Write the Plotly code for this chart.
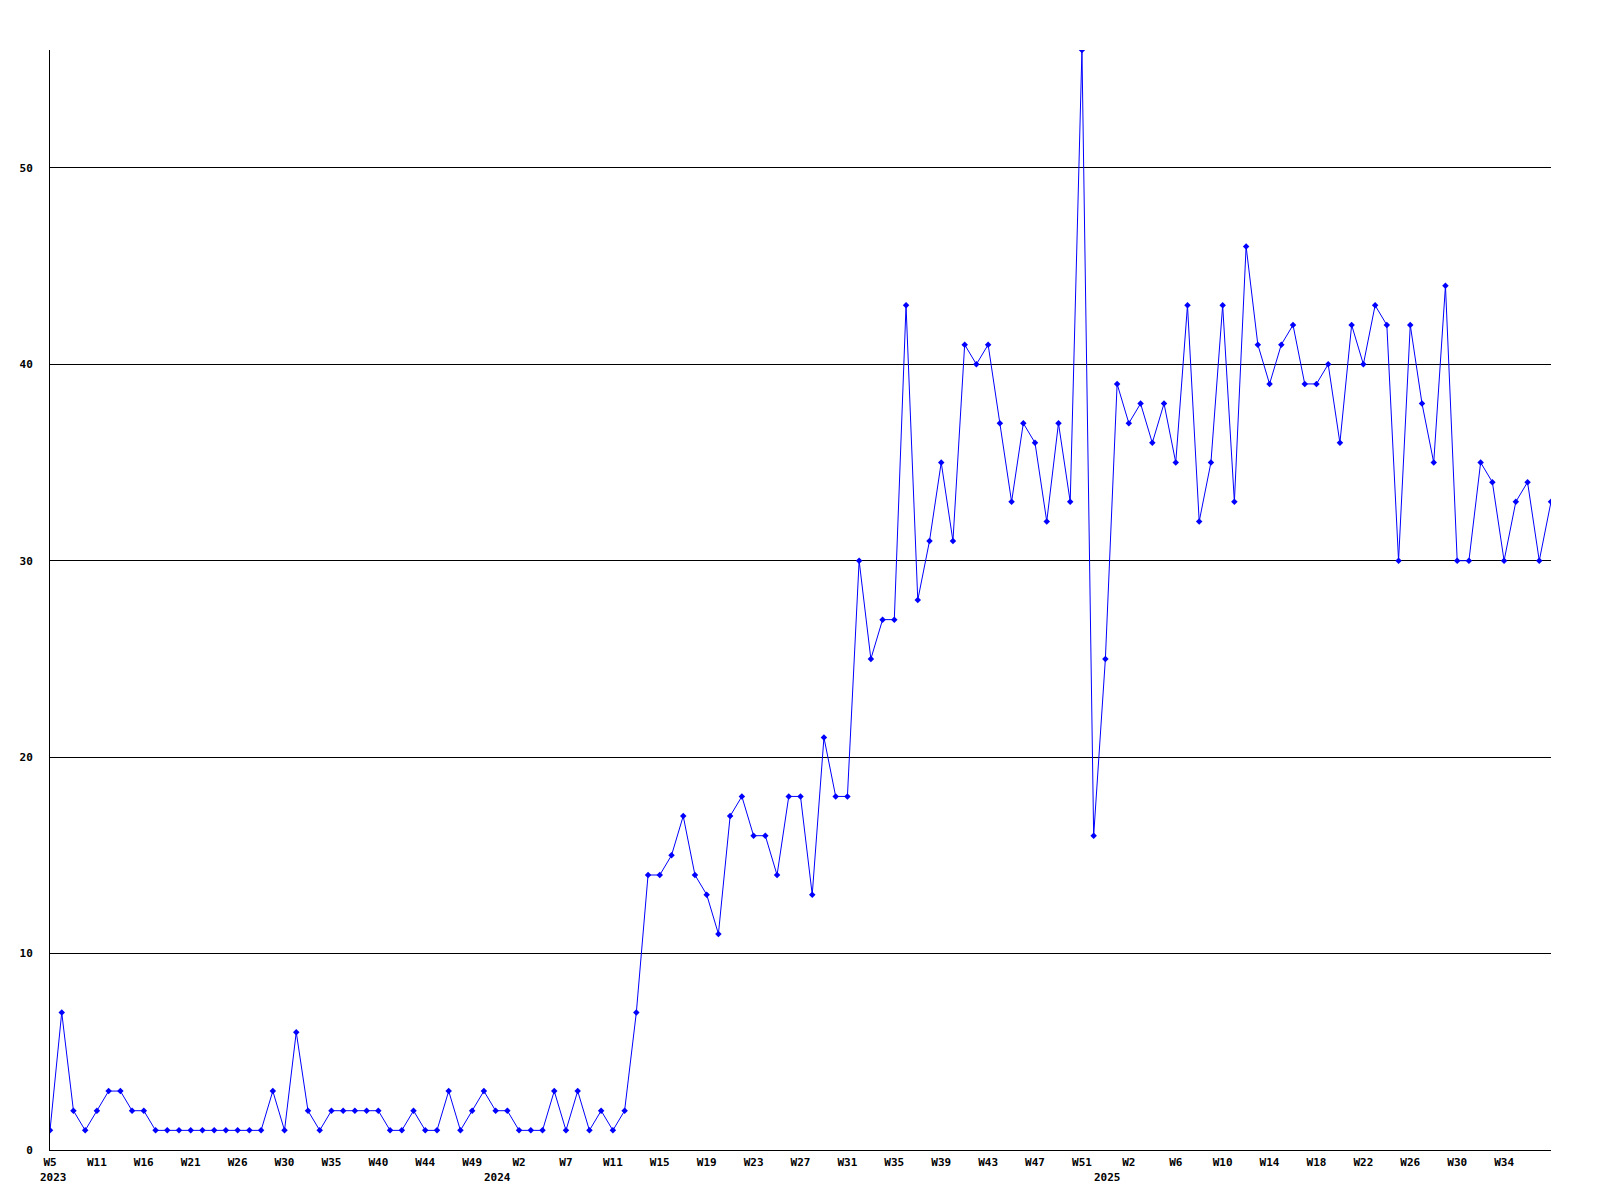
import plotly.graph_objects as go

values = [1, 7, 2, 1, 2, 3, 3, 2, 2, 1,
          1, 1, 1, 1, 1, 1, 1, 1, 1, 3,
          1, 6, 2, 1, 2, 2, 2, 2, 2, 1,
          1, 2, 1, 1, 3, 1, 2, 3, 2, 2,
          1, 1, 1, 3, 1, 3, 1, 2, 1, 2,
          7, 14, 14, 15, 17, 14, 13, 11, 17, 18,
          16, 16, 14, 18, 18, 13, 21, 18, 18, 30,
          25, 27, 27, 43, 28, 31, 35, 31, 41, 40,
          41, 37, 33, 37, 36, 32, 37, 33, 56, 16,
          25, 39, 37, 38, 36, 38, 35, 43, 32, 35,
          43, 33, 46, 41, 39, 41, 42, 39, 39, 40,
          36, 42, 40, 43, 42, 30, 42, 38, 35, 44,
          30, 30, 35, 34, 30, 33, 34, 30, 33]

tick_labels = ["W5", "W11", "W16", "W21", "W26", "W30", "W35", "W40", "W44", "W49",
               "W2", "W7", "W11", "W15", "W19", "W23", "W27", "W31", "W35", "W39",
               "W43", "W47", "W51", "W2", "W6", "W10", "W14", "W18", "W22", "W26",
               "W30", "W34"]
tick_step = 4

years = ["2023", "2024", "2025"]
year_pos = [0.3, 38.2, 90.2]

y_ticks = [0, 10, 20, 30, 40, 50]

x = list(range(len(values)))
tickvals = [i * tick_step for i in range(len(tick_labels))]

font_family = "DejaVu Sans Mono"

fig = go.Figure()
fig.add_trace(go.Scatter(
    x=x, y=values, mode="lines+markers",
    line=dict(color="#0000FF", width=1),
    marker=dict(symbol="diamond", size=5, color="#0000FF"),
    showlegend=False, hoverinfo="x+y",
))

for yr, pos in zip(years, year_pos):
    fig.add_annotation(x=pos, y=0, xref="x", yref="paper", yshift=-36,
                       text=yr, showarrow=False, xanchor="center", yanchor="bottom",
                       font=dict(family=font_family, size=11, color="black", weight="bold"))

fig.update_layout(
    width=1600, height=1200,
    margin=dict(l=42, r=57, t=42, b=58),
    paper_bgcolor="white", plot_bgcolor="white",
    xaxis=dict(
        range=[0, len(values) - 1], tickmode="array", tickvals=tickvals, ticktext=tick_labels,
        showgrid=False, zeroline=False, showline=True, linecolor="black", linewidth=1,
        ticks="", tickfont=dict(family=font_family, size=11, color="black", weight="bold"),
        ticklabelstandoff=2,
    ),
    yaxis=dict(
        range=[0, 56], tickmode="array", tickvals=y_ticks,
        showgrid=True, gridcolor="black", gridwidth=1, zeroline=False,
        showline=True, linecolor="black", linewidth=1, ticks="",
        tickfont=dict(family=font_family, size=11, color="black", weight="bold"),
        ticklabelstandoff=14,
    ),
)

fig.write_html("out.html")
